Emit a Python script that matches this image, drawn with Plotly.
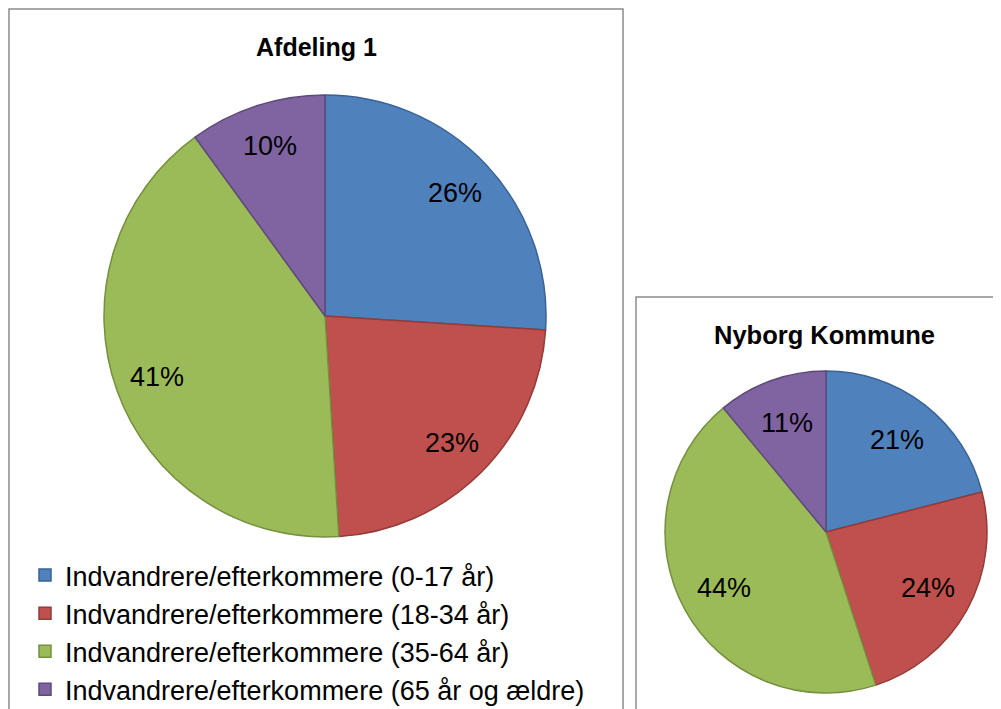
import math
import plotly.graph_objects as go

categories = [
    "Indvandrere/efterkommere (0-17 år)",
    "Indvandrere/efterkommere (18-34 år)",
    "Indvandrere/efterkommere (35-64 år)",
    "Indvandrere/efterkommere (65 år og ældre)",
]
afdeling_values = [26, 23, 41, 10]
nyborg_values = [21, 24, 44, 11]
titles = ["Afdeling 1", "Nyborg Kommune"]

fill_colors = ["#4F81BD", "#C0504D", "#9BBB59", "#8064A2"]
line_colors = ["#3A6395", "#933B39", "#76903F", "#5F4A7B"]

# the page body has an 8px margin, so the figure is placed at (8, 8)
OFF = 8
W, H = 1001 - OFF, 709 - OFF
FONT = "Arial, Liberation Sans, sans-serif"


def px_x(p):
    return (p - OFF) / W


def px_y(p):
    return 1 - (p - OFF) / H


# pie geometry (screen pixels)
pies = [
    dict(values=afdeling_values, cx=325, cy=316, r=221, label_frac=0.81, legend=True),
    dict(values=nyborg_values, cx=826, cy=532, r=161, label_frac=0.72, legend=False),
]

fig = go.Figure()
annotations = []

for p in pies:
    fig.add_trace(go.Pie(
        labels=categories, values=p["values"], sort=False,
        direction="clockwise", rotation=0,
        marker=dict(colors=fill_colors, line=dict(color=line_colors, width=1.5)),
        textinfo="none",
        domain=dict(x=[px_x(p["cx"] - p["r"]), px_x(p["cx"] + p["r"])],
                    y=[px_y(p["cy"] + p["r"]), px_y(p["cy"] - p["r"])]),
        showlegend=p["legend"], hoverinfo="label+percent",
    ))
    total = float(sum(p["values"]))
    cum = 0.0
    for v in p["values"]:
        mid = (cum + v / 2.0) / total * 2 * math.pi
        cum += v
        lx = p["cx"] + p["label_frac"] * p["r"] * math.sin(mid)
        ly = p["cy"] - p["label_frac"] * p["r"] * math.cos(mid)
        annotations.append(dict(
            text="%d%%" % round(v / total * 100), x=px_x(lx), y=px_y(ly),
            xref="paper", yref="paper", showarrow=False,
            xanchor="center", yanchor="middle",
            font=dict(family=FONT, size=27, color="black"),
        ))

shapes = [
    dict(type="rect", xref="paper", yref="paper",
         x0=px_x(9), x1=px_x(623), y0=px_y(730), y1=px_y(9),
         line=dict(color="#8C8C8C", width=1.5), fillcolor="rgba(0,0,0,0)", layer="below"),
    dict(type="rect", xref="paper", yref="paper",
         x0=px_x(636), x1=px_x(1020), y0=px_y(730), y1=px_y(297),
         line=dict(color="#8C8C8C", width=1.5), fillcolor="white", layer="below"),
]

annotations += [
    dict(text="<b>%s</b>" % titles[0], x=px_x(316), y=px_y(47), xref="paper", yref="paper",
         showarrow=False, font=dict(family=FONT, size=25, color="black"),
         xanchor="center", yanchor="middle"),
    dict(text="<b>%s</b>" % titles[1], x=px_x(824), y=px_y(335), xref="paper", yref="paper",
         showarrow=False, font=dict(family=FONT, size=25.5, color="black"),
         xanchor="center", yanchor="middle"),
]

fig.update_layout(
    width=W, height=H,
    margin=dict(l=0, r=0, t=0, b=0, autoexpand=False),
    paper_bgcolor="white", plot_bgcolor="white",
    shapes=shapes, annotations=annotations,
    legend=dict(
        x=px_x(25), y=px_y(551), xanchor="left", yanchor="top",
        font=dict(family=FONT, size=27, color="black"),
        bgcolor="rgba(0,0,0,0)", traceorder="normal",
    ),
)

fig.write_html("out.html")
